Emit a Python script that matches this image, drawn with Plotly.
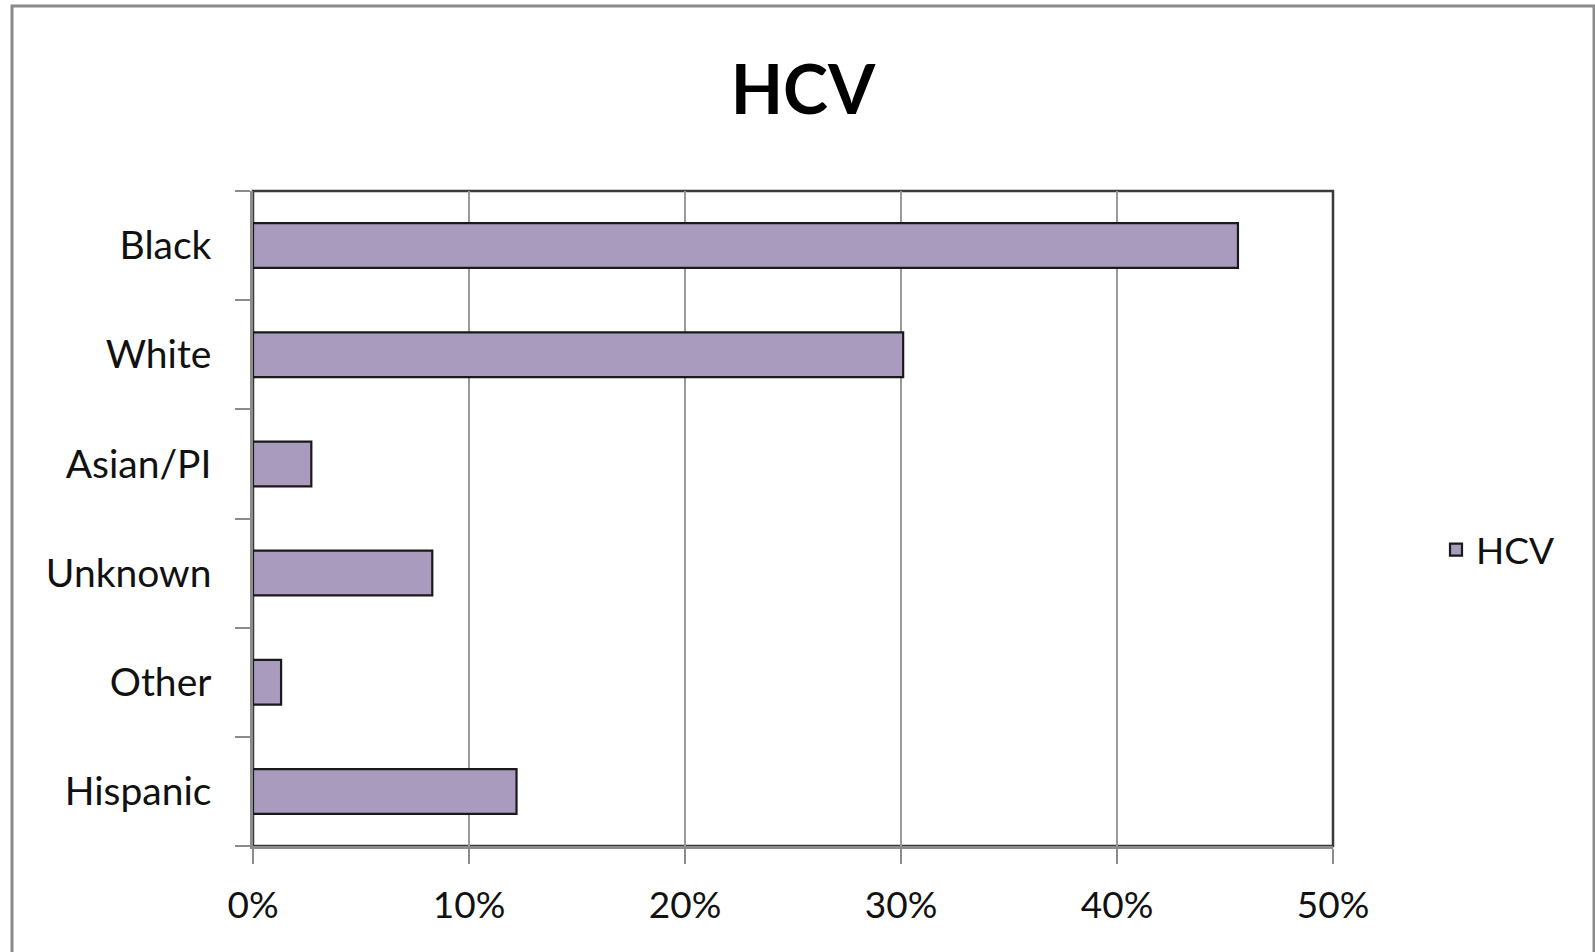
import plotly.graph_objects as go

categories = ["Black", "White", "Asian/PI", "Unknown", "Other", "Hispanic"]
hcv_share = [0.456, 0.301, 0.027, 0.083, 0.013, 0.122]
x_ticks = [0, 0.1, 0.2, 0.3, 0.4, 0.5]
x_tick_labels = ["0%", "10%", "20%", "30%", "40%", "50%"]
series_name = "HCV"
chart_title = "HCV"

W, H = 1595, 952
L, R, T, B = 253, 262, 191, 106
pw, ph = W - L - R, H - T - B

def px_x(p):
    return (p - L) / pw

def px_y(p):
    return (H - B - p) / ph

fig = go.Figure()
fig.add_trace(go.Bar(
    y=categories, x=hcv_share, orientation="h", name=series_name,
    marker=dict(color="#A99BBD", line=dict(color="#1a1a1a", width=2.2)),
    showlegend=True,
))

font = "Lato, Carlito, Calibri, sans-serif"
fig.update_layout(
    width=W, height=H,
    margin=dict(l=L, r=R, t=T, b=B),
    paper_bgcolor="white", plot_bgcolor="white",
    bargap=0.59,
    font=dict(family=font, size=38, color="#111"),
    title=dict(text="<b>%s</b>" % chart_title, x=803 / W, xanchor="center",
               y=1 - 90 / H, yanchor="middle",
               font=dict(family=font, size=68, color="#000")),
    showlegend=True,
    legend=dict(x=px_x(1436), xanchor="left", y=px_y(550), yanchor="middle",
                font=dict(family=font, size=37, color="#111"),
                bgcolor="rgba(0,0,0,0)"),
    xaxis=dict(range=[0, 0.5], tickvals=x_ticks, ticktext=x_tick_labels,
               tickfont=dict(size=37),
               showgrid=True, gridcolor="#9a9a9a", gridwidth=1.5,
               showline=True, linecolor="#8c8c8c", linewidth=2.5,
               ticks="outside", ticklen=15, tickwidth=2, tickcolor="#8c8c8c",
               ticklabelstandoff=10, zeroline=False, fixedrange=True),
    yaxis=dict(categoryorder="array", categoryarray=categories[::-1],
               tickfont=dict(size=39),
               showgrid=False, showline=True, linecolor="#8c8c8c", linewidth=2.5,
               ticks="outside", ticklen=15, tickwidth=2, tickcolor="#8c8c8c",
               tickson="boundaries", ticklabelstandoff=31, fixedrange=True),
    shapes=[
        dict(type="rect", xref="paper", yref="paper", x0=0, x1=1, y0=0, y1=1,
             line=dict(color="#3a3a3a", width=2.5), layer="below"),
        dict(type="rect", xref="paper", yref="paper",
             x0=px_x(12), x1=px_x(1594), y0=px_y(960), y1=px_y(6),
             line=dict(color="#8a8a8a", width=3), layer="below"),
    ],
)

fig.write_html("out.html")
